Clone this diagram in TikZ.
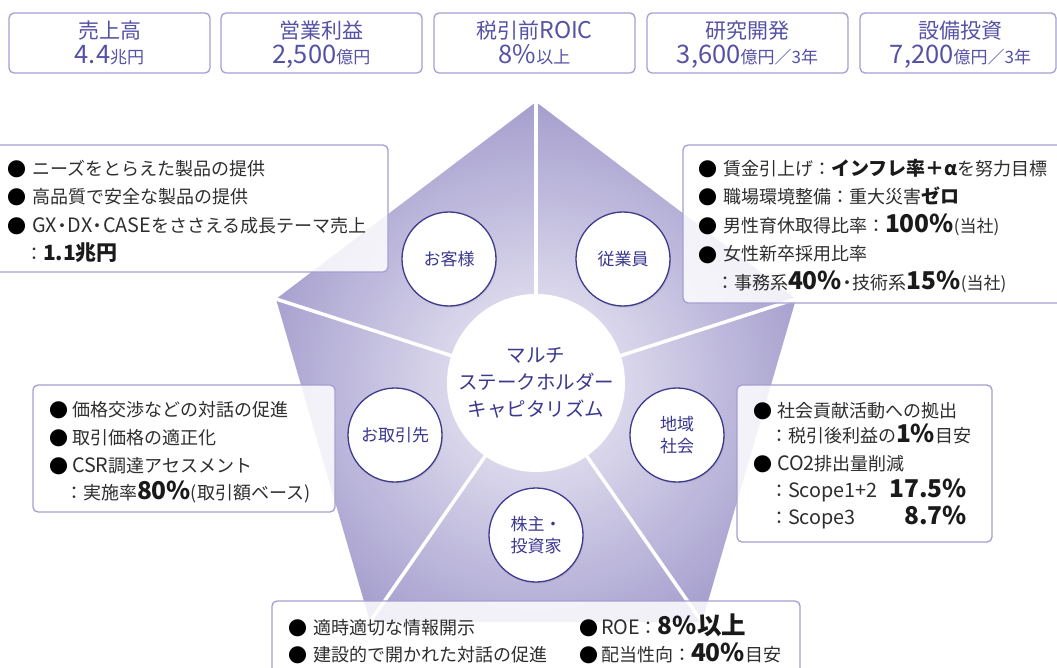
\documentclass[tikz,border=0pt]{standalone}
\usepackage{fontspec}
\setmainfont{Noto Sans CJK JP}
\newfontfamily\latf{Noto Sans CJK JP}[Scale=1.1]
\usetikzlibrary{shadows}
\definecolor{boxline}{HTML}{A49FD1}
\definecolor{headtext}{HTML}{5552A6}
\definecolor{circline}{HTML}{3E3A8E}
\definecolor{circtext}{HTML}{3B3890}
\definecolor{bodytext}{HTML}{2E2E2E}
\definecolor{numtext}{HTML}{1A1A1A}
\definecolor{pentlight}{HTML}{F2F1F9}
\definecolor{pentdark}{HTML}{A099CB}
\newcommand\BigNum[1]{{\fontsize{24.5}{24}\selectfont\bfseries\color{numtext}#1}}
\newcommand\MidNum[1]{{\fontsize{21}{21}\selectfont\bfseries\color{numtext}#1}}
\newcommand\SmallTxt[1]{{\fontsize{17}{15}\selectfont #1}}
\newcommand\BoldTxt[1]{{\fontsize{19}{19}\selectfont\bfseries\color{numtext}#1}}
\newcommand\KpiNum[1]{{\fontsize{25.5}{24}\selectfont #1}}
\newcommand\KpiUnit[1]{{\fontsize{17}{17}\selectfont #1}}
\newcommand\Lt[1]{{\latf #1}}
\newcommand\Nd{\kern-0.2em・\kern-0.2em}
\tikzset{
  kpibox/.style={draw=boxline, line width=1.3pt, rounded corners=5pt, fill=white, inner sep=0pt},
  kpititle/.style={anchor=base, inner sep=0pt, text=headtext, font=\fontsize{21}{21}\selectfont},
  kpivalue/.style={anchor=base, inner sep=0pt, text=headtext},
  infobox/.style={draw=boxline, line width=1.3pt, rounded corners=5pt, fill=white, fill opacity=0.84, draw opacity=1, inner sep=0pt},
  txt/.style={anchor=base west, inner sep=0pt, outer sep=0pt, text=bodytext, font=\fontsize{18}{22}\selectfont},
  bul/.style={anchor=base, inner sep=0pt, text=black, font=\fontsize{19}{20}\selectfont},
  divider/.style={draw=white, line width=3.5pt},
  hub/.style={circle, fill=white, inner sep=0pt, minimum size=178pt, align=center, text=circtext, font=\fontsize{19.5}{27}\selectfont},
  stake/.style={circle, draw=circline, line width=1.3pt, fill=white, inner sep=0pt, minimum size=94pt, align=center, text=circtext, font=\fontsize{17}{22}\selectfont, drop shadow={shadow xshift=1pt, shadow yshift=-1.5pt, opacity=0.22}}
}
\begin{document}
\begin{tikzpicture}[x=1pt,y=-1pt]
\useasboundingbox (0,0) rectangle (1057,668);
\fill[white] (0,0) rectangle (1057,668);

% KPI boxes
\node[kpibox, minimum width=201pt, minimum height=60pt] (k1) at (109.5,43) {};
\node[kpibox, minimum width=201pt, minimum height=60pt] (k2) at (321.5,43) {};
\node[kpibox, minimum width=201pt, minimum height=60pt] (k3) at (534.5,43) {};
\node[kpibox, minimum width=201pt, minimum height=60pt] (k4) at (747.5,43) {};
\node[kpibox, minimum width=196pt, minimum height=60pt] (k5) at (958,43) {};
\node[kpititle] (k1t) at (109.5,39) {売上高};
\node[kpivalue] (k1v) at (109.5,64) {\KpiNum{4.4}\KpiUnit{兆円}};
\node[kpititle] (k2t) at (321.5,39) {営業利益};
\node[kpivalue] (k2v) at (321.5,64) {\KpiNum{2,500}\KpiUnit{億円}};
\node[kpititle] (k3t) at (534.5,39) {税引前\Lt{ROIC}};
\node[kpivalue] (k3v) at (534.5,64) {\KpiNum{8\%}\KpiUnit{以上}};
\node[kpititle] (k4t) at (747.5,39) {研究開発};
\node[kpivalue] (k4v) at (747.5,64) {\KpiNum{3,600}\KpiUnit{億円／3年}};
\node[kpititle] (k5t) at (960.5,39) {設備投資};
\node[kpivalue] (k5v) at (960.5,64) {\KpiNum{7,200}\KpiUnit{億円／3年}};

% Pentagon
\coordinate (pc) at (536,383);
\coordinate (vT) at (536,102);
\coordinate (vR) at (796,299);
\coordinate (vLR) at (702,622);
\coordinate (vLL) at (370,622);
\coordinate (vL) at (276,299);
\begin{scope}
  \clip (vT) -- (vR) -- (vLR) -- (vLL) -- (vL) -- cycle;
  \shade[inner color=pentlight, outer color=pentdark] (pc) circle[radius=300pt];
\end{scope}
\draw[divider] (pc) -- (vT);
\draw[divider] (pc) -- (vR);
\draw[divider] (pc) -- (vLR);
\draw[divider] (pc) -- (vLL);
\draw[divider] (pc) -- (vL);

\node[hub] (hubc) at (pc) {マルチ\\ステークホルダー\\キャピタリズム};
\node[stake] (cust) at (449,259) {お客様};
\node[stake] (empl) at (623,259) {従業員};
\node[stake] (supp) at (395,435) {お取引先};
\node[stake] (comm) at (677,435) {地域\\社会};
\node[stake] (shar) at (536,535) {株主・\\投資家};

% Info boxes
\node[infobox, minimum width=400pt, minimum height=127pt] (boxA) at (188,208.5) {};
\node[infobox, minimum width=392pt, minimum height=158pt] (boxB) at (879,224) {};
\node[infobox, minimum width=302pt, minimum height=127pt] (boxC) at (184,448.5) {};
\node[infobox, minimum width=255pt, minimum height=157pt] (boxD) at (864.5,463.5) {};
\node[infobox, minimum width=528pt, minimum height=110pt] (boxE) at (536,656) {};

% Box A: customers
\node[bul] (a1b) at (17,177) {●};
\node[txt] (a1) at (32,176) {ニーズをとらえた製品の提供};
\node[bul] (a2b) at (17,205) {●};
\node[txt] (a2) at (32,204) {高品質で安全な製品の提供};
\node[bul] (a3b) at (17,234) {●};
\node[txt] (a3) at (32,233) {\Lt{GX}\Nd\Lt{DX}\Nd\Lt{CASE}をささえる成長テーマ売上};
\node[txt] (a4) at (25,261) {：\MidNum{1.1兆円}};

% Box B: employees
\node[bul] (b1b) at (708,177) {●};
\node[txt] (b1) at (723,176) {賃金引上げ：\BoldTxt{インフレ率＋α}を努力目標};
\node[bul] (b2b) at (708,205) {●};
\node[txt] (b2) at (723,204) {職場環境整備：重大災害\BoldTxt{ゼロ}};
\node[bul] (b3b) at (708,234) {●};
\node[txt] (b3) at (723,233) {男性育休取得比率：\BigNum{100\%}\SmallTxt{(当社)}};
\node[bul] (b4b) at (708,262) {●};
\node[txt] (b4) at (723,261) {女性新卒採用比率};
\node[txt] (b5) at (716,290) {：事務系\BigNum{40\%}\Nd 技術系\BigNum{15\%}\SmallTxt{(当社)}};

% Box C: suppliers
\node[bul] (c1b) at (58.5,417) {●};
\node[txt] (c1) at (72,416) {価格交渉などの対話の促進};
\node[bul] (c2b) at (58.5,445) {●};
\node[txt] (c2) at (72,444) {取引価格の適正化};
\node[bul] (c3b) at (58.5,473) {●};
\node[txt] (c3) at (72,472) {\Lt{CSR}調達アセスメント};
\node[txt] (c4) at (65,499) {：実施率\BigNum{80\%}(取引額ベース)};

% Box D: community
\node[bul] (d1b) at (762.5,418) {●};
\node[txt] (d1) at (777,417) {社会貢献活動への拠出};
\node[txt] (d2) at (770,442) {：税引後利益の\BigNum{1\%}目安};
\node[bul] (d3b) at (762.5,471) {●};
\node[txt] (d3) at (777,470) {\Lt{CO2}排出量削減};
\node[txt] (d4) at (770,497) {：\Lt{Scope1+2}};
\node[txt, anchor=base east] (d4n) at (967,497) {\BigNum{17.5\%}};
\node[txt] (d5) at (770,524) {：\Lt{Scope3}};
\node[txt, anchor=base east] (d5n) at (967,524) {\BigNum{8.7\%}};

% Box E: shareholders
\node[bul] (e1b) at (298,635) {●};
\node[txt] (e1) at (313,634) {適時適切な情報開示};
\node[bul] (e2b) at (298,662) {●};
\node[txt] (e2) at (313,661) {建設的で開かれた対話の促進};
\node[bul] (e3b) at (589,635) {●};
\node[txt] (e3) at (601,634) {\Lt{ROE}：\BigNum{8\%以上}};
\node[bul] (e4b) at (589,662) {●};
\node[txt] (e4) at (601,661) {配当性向：\BigNum{40\%}目安};
\end{tikzpicture}
\end{document}
